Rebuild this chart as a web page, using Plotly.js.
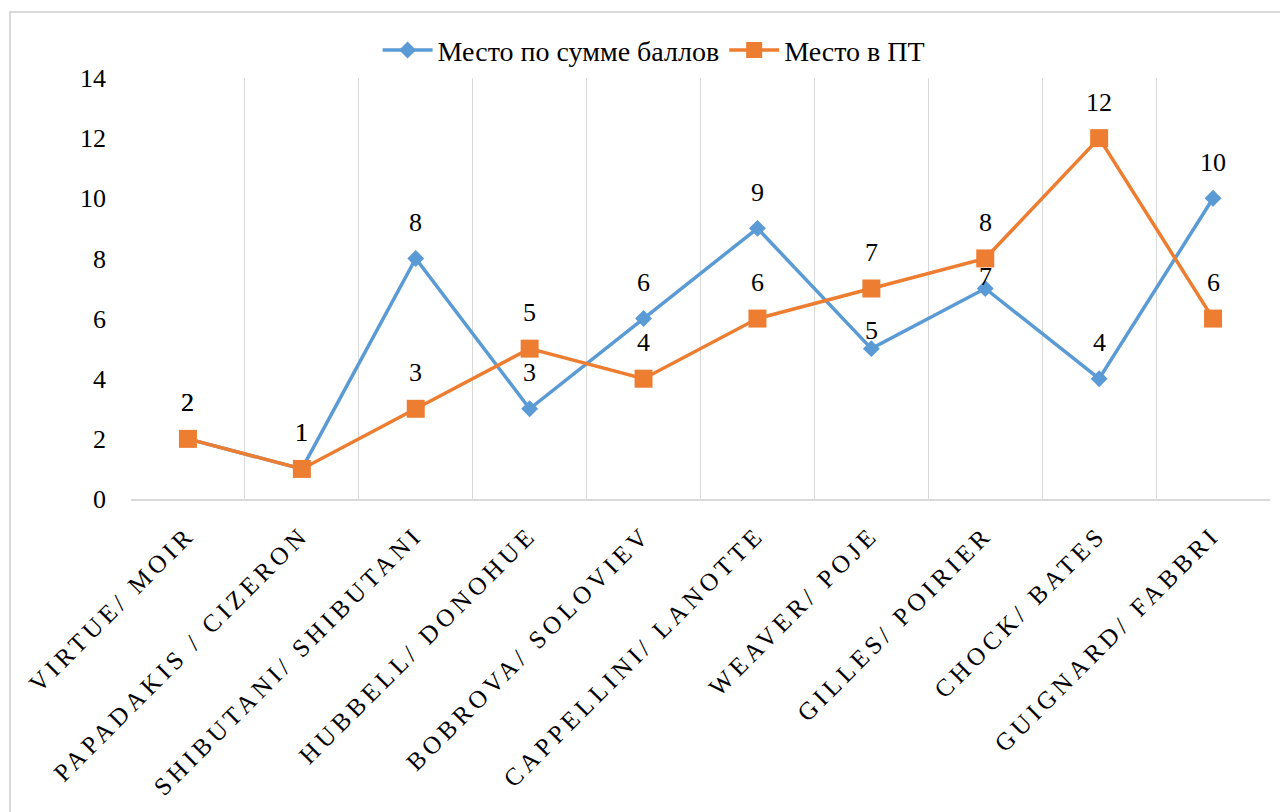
<!DOCTYPE html>
<html>
<head>
<meta charset="utf-8">
<script src="https://cdn.plot.ly/plotly-3.0.1.min.js"></script>
<style>
  body { margin: 0; background: #fff; }
  #wrap { position: relative; width: 1280px; height: 812px; }
  #chart { position: absolute; left: 0; top: 0; width: 1280px; height: 812px; }
  #warm { position: absolute; left: 600px; top: 300px; font-family: 'Liberation Serif'; font-size: 26px; color: #fff; }
  #chart text { font-family: 'Liberation Serif', 'Times New Roman', serif !important; }
  #chart .xtick text { letter-spacing: 4.5px; }
</style>
</head>
<body>
<div id="wrap">
  <div id="warm">Место 0123456789</div>
  <div id="chart"></div>
</div>
<script>
const categories = [
  "VIRTUE/ MOIR", "PAPADAKIS / CIZERON", "SHIBUTANI/ SHIBUTANI", "HUBBELL/ DONOHUE",
  "BOBROVA/ SOLOVIEV", "CAPPELLINI/ LANOTTE", "WEAVER/ POJE", "GILLES/ POIRIER",
  "CHOCK/ BATES", "GUIGNARD/ FABBRI"
];
const seriesNames = ["Место по сумме баллов", "Место в ПТ"];
const totalPlace = [2, 1, 8, 3, 6, 9, 5, 7, 4, 10];
const ftPlace = [2, 1, 3, 5, 4, 6, 7, 8, 12, 6];
const yTicks = [0, 2, 4, 6, 8, 10, 12, 14];

const BLUE = "#5b9bd5", ORANGE = "#ed7d31";
const FONT = "Liberation Serif";
const LABEL_SHIFT = 36;
// manually moved labels of the first series (index -> shift in px)
const blueShiftOverride = {6: 18, 7: 12};

const traces = [
  {
    x: categories, y: totalPlace, name: seriesNames[0], type: "scatter", mode: "lines+markers",
    line: {color: BLUE, width: 3.5},
    marker: {symbol: "diamond", size: 13, color: BLUE}
  },
  {
    x: categories, y: ftPlace, name: seriesNames[1], type: "scatter", mode: "lines+markers",
    line: {color: ORANGE, width: 3.5},
    marker: {symbol: "square", size: 18, color: ORANGE}
  }
];

const annotations = [];
totalPlace.forEach((v, i) => annotations.push({
  x: categories[i], y: v, text: String(v), showarrow: false,
  yshift: (blueShiftOverride[i] !== undefined ? blueShiftOverride[i] : LABEL_SHIFT),
  font: {family: FONT, size: 26}
}));
ftPlace.forEach((v, i) => annotations.push({
  x: categories[i], y: v, text: String(v), showarrow: false, yshift: LABEL_SHIFT,
  font: {family: FONT, size: 26}
}));

const layout = {
  margin: {l: 131, r: 10, t: 78, b: 313},
  paper_bgcolor: "rgba(255,255,255,0)", plot_bgcolor: "rgba(255,255,255,0)",
  font: {family: FONT, size: 26, color: "black"},
  showlegend: true,
  legend: {
    orientation: "h", xref: "container", yref: "container",
    x: 0.511, xanchor: "center", y: 0.938, yanchor: "middle",
    font: {family: FONT, size: 28},
    itemwidth: 50, tracegroupgap: 0
  },
  xaxis: {
    type: "category", range: [-0.5, 9.5], tickson: "boundaries",
    showgrid: true, gridcolor: "#d9d9d9", gridwidth: 1.3,
    showline: true, linecolor: "#d9d9d9", linewidth: 2,
    ticks: "", tickangle: -45, ticklabelstandoff: 9,
    tickfont: {family: FONT, size: 25}
  },
  yaxis: {
    range: [0, 14], tickvals: yTicks, ticktext: yTicks.map(String),
    showgrid: false, zeroline: false, showline: false, ticks: "",
    ticklabelstandoff: 24,
    tickfont: {family: FONT, size: 26}
  },
  annotations: annotations,
  shapes: [{
    type: "rect", xref: "paper", yref: "paper", layer: "below",
    x0: -0.1062, x1: 1.3, y0: -1.2, y1: 1.1568,
    line: {color: "#d9d9d9", width: 2}, fillcolor: "rgba(0,0,0,0)"
  }]
};

function forceFont() {
  document.querySelectorAll("#chart text").forEach(t => {
    t.setAttribute("font-family", "Liberation Serif");
    t.style.setProperty("font-family", "'Liberation Serif', serif", "important");
  });
}

Plotly.newPlot("chart", traces, layout, {displayModeBar: false}).then(() => {
  forceFont();
  setTimeout(forceFont, 300);
});
</script>
</body>
</html>
